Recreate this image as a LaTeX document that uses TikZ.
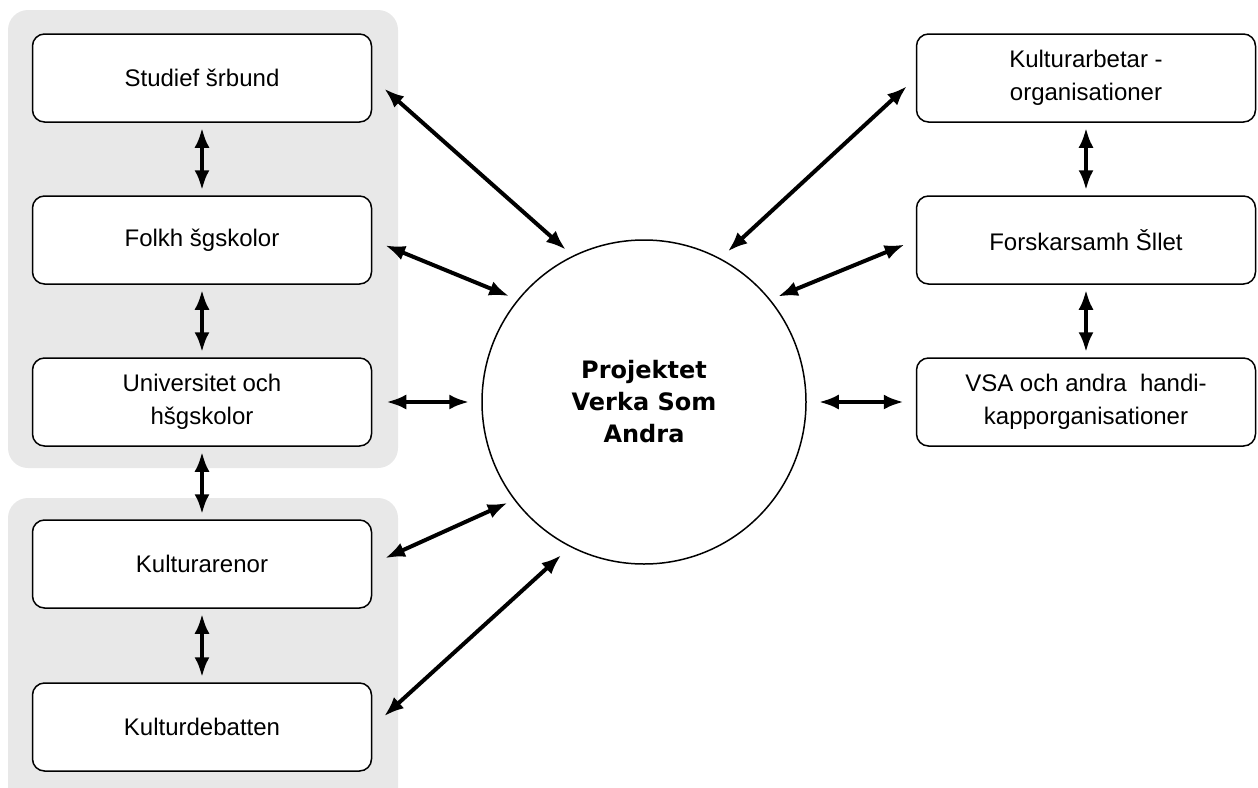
\documentclass[tikz,border=0pt]{standalone}
\usepackage{fontspec}
\setmainfont{Liberation Sans}
\newfontfamily\centerfont{DejaVu Sans}
\usetikzlibrary{arrows.meta,positioning}
\definecolor{panelgray}{RGB}{232,232,232}

\begin{document}
\begin{tikzpicture}
	[   x=0.5pt,y=-0.5pt,
	    bnode/.style={draw=black,line width=0.75pt,fill=#1,rounded corners=6pt,minimum width=169.5pt,minimum height=44pt,align=center,font=\fontsize{12}{16.5}\selectfont},
	    panel/.style={fill=panelgray,rounded corners=10pt},
	]
	\tikzset{normal arrow/.style={draw,line width=2pt,{Latex[length=10pt,width=7.5pt]}-{Latex[length=10pt,width=7.5pt]}}}
	\useasboundingbox (0,0) rectangle (1258,787);
	
	% grey groups on the left
	\path[panel] (8,10) rectangle (398,468);
	\path[panel] (8,498) rectangle (398,810);
	
	\node[draw,circle,line width=0.75pt,fill=white,minimum size=162pt,inner sep=0pt,align=center,font=\centerfont\bfseries\fontsize{12}{16}\selectfont] (p) at (644,402) {Projektet\\Verka Som\\Andra};
	
	\node[bnode=white] (l-1) at (202,78) {Studief šrbund};
	\node[bnode=white] (l-2) at (202,240) {Folkh šgskolor};
	\node[bnode=white] (l-3) at (202,402) {Universitet och\\hšgskolor};
	\node[bnode=white] (l-4) at (202,564) {Kulturarenor};
	\node[bnode=white] (l-5) at (202,727) {Kulturdebatten};
	
	\node[bnode=white] (r-1) at (1086,78) {Kulturarbetar -\\organisationer};
	\node[bnode=white] (r-2) at (1086,240) {Forskarsamh Šllet};
	\node[bnode=white] (r-3) at (1086,402) {VSA och andra\ \ handi-\\kapporganisationer};
	
	\foreach \x/\y in {1/2,2/3,3/4,4/5}
	{
		\path[normal arrow,shorten <=2.5pt,shorten >=2.5pt] (l-\x) -- (l-\y);
	}
	\foreach \x/\y in {1/2,2/3}
	{
		\path[normal arrow,shorten <=2.5pt,shorten >=2.5pt] (r-\x) -- (r-\y);
	}
	
	\path[normal arrow,shorten <=8pt,shorten >=4.5pt] (l-1.east) -- (p.116);
	\path[normal arrow,shorten <=7pt,shorten >=4.5pt] (l-2.east) -- (p.141);
	\path[normal arrow,shorten <=7pt,shorten >=6pt] (l-3.east) -- (p.180);
	\path[normal arrow,shorten <=7pt,shorten >=3.5pt] (l-4.east) -- (p.217);
	\path[normal arrow,shorten <=8pt,shorten >=6pt] (l-5.east) -- (p.243);
	
	\path[normal arrow,shorten <=5pt,shorten >=6pt] (p.62) -- (r-1.west);
	\path[normal arrow,shorten <=4pt,shorten >=6pt] (p.39) -- (r-2.west);
	\path[normal arrow,shorten <=6pt,shorten >=6pt] (p.0) -- (r-3.west);
\end{tikzpicture}
\end{document}
